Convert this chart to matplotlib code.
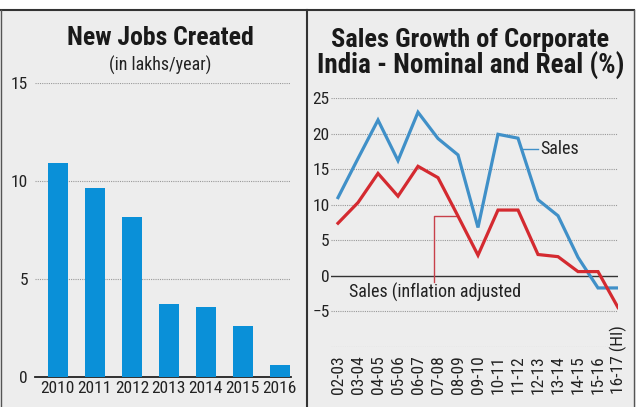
import matplotlib
matplotlib.use("Agg")
import matplotlib.pyplot as plt
from matplotlib.lines import Line2D

# data
years = ["2010", "2011", "2012", "2013", "2014", "2015", "2016"]
jobs = [10.9, 9.65, 8.15, 3.75, 3.55, 2.6, 0.6]

fy = ["02-03", "03-04", "04-05", "05-06", "06-07", "07-08", "08-09", "09-10",
      "10-11", "11-12", "12-13", "13-14", "14-15", "15-16", "16-17 (HI)"]
sales = [11.0, 16.5, 21.9, 16.2, 23.0, 19.3, 17.0, 6.8, 19.9, 19.35, 10.7, 8.45, 2.6, -1.7, -1.7]
sales_real = [7.4, 10.3, 14.4, 11.2, 15.4, 13.8, 8.4, 2.9, 9.25, 9.25, 3.0, 2.7, 0.6, 0.6, -4.45]

plt.rcParams["font.family"] = ["Roboto Condensed", "DejaVu Sans"]
BG = "#ededed"
W, H = 636, 407

fig = plt.figure(figsize=(W / 100, H / 100), dpi=100)
fig.patch.set_facecolor("white")

def px(x0, y0, x1, y1):
    # pixel box (top-left origin) -> figure fraction rect
    return [x0 / W, 1 - y1 / H, (x1 - x0) / W, (y1 - y0) / H]

# grey panel + frame lines
bgax = fig.add_axes([0, 0, 1, 1])
bgax.set_xlim(0, W)
bgax.set_ylim(H, 0)
bgax.axis("off")
bgax.add_patch(plt.Rectangle((0, 10), W, H - 10, color=BG, zorder=0))
bgax.add_line(Line2D([0, 634], [10, 10], color="#333333", lw=1.5))
bgax.add_line(Line2D([1, 1], [10, H], color="#555555", lw=1))
bgax.add_line(Line2D([307, 307], [10, H], color="#333333", lw=1.5))
bgax.add_line(Line2D([634, 634], [10, H], color="#555555", lw=1))

bgax.text(160, 38, "New Jobs Created", ha="center", va="center",
          fontsize=18.5, fontweight="bold", color="#1a1a1a")
bgax.text(160, 65, "(in lakhs/year)", ha="center", va="center",
          fontsize=13, color="#222222")
bgax.text(470, 40, "Sales Growth of Corporate", ha="center", va="center",
          fontsize=19, fontweight="bold", color="#1a1a1a")
bgax.text(471, 66, "India - Nominal and Real (%)", ha="center", va="center",
          fontsize=19.5, fontweight="bold", color="#1a1a1a")

# left: bars
ax1 = fig.add_axes(px(35, 83, 291, 377))
ax1.set_facecolor("none")
ax1.bar(range(len(years)), jobs, width=0.54, color="#0a90d8", zorder=3)
ax1.set_xlim(-0.62, 6.3)
ax1.set_ylim(0, 15)
ax1.set_yticks([0, 5, 10, 15])
ax1.set_xticks(range(len(years)))
ax1.set_xticklabels(years)
for v in [5, 10, 15]:
    ax1.axhline(v, color="#999999", lw=0.8, ls=(0, (1, 1)), zorder=1)
for s in ["top", "right", "left"]:
    ax1.spines[s].set_visible(False)
ax1.spines["bottom"].set_color("#222222")
ax1.spines["bottom"].set_linewidth(1.3)
ax1.tick_params(axis="both", length=0, labelsize=12.5, colors="#222222")
ax1.tick_params(axis="y", pad=5)
ax1.tick_params(axis="x", pad=3)

# right: lines
ax2 = fig.add_axes(px(331, 98, 618, 347))
ax2.set_facecolor("none")
xs = list(range(len(fy)))
ax2.plot(xs, sales, color="#4090c8", lw=2.3, zorder=3, solid_joinstyle="miter")
ax2.plot(xs, sales_real, color="#d42a30", lw=2.3, zorder=4, solid_joinstyle="miter")
ax2.set_xlim(-0.35, 14.0)
ax2.set_ylim(-10, 25)
ax2.set_yticks([-5, 0, 5, 10, 15, 20, 25])
ax2.set_xticks(xs)
ax2.set_xticklabels([])
# rotated labels share a common bottom edge, growing upward
for i, lab in zip(xs, fy):
    ax2.text(i, -0.19, lab, rotation=90, ha="center", va="bottom",
             fontsize=12.5, color="#222222", transform=ax2.get_xaxis_transform())
for v in [-10, -5, 5, 10, 15, 20, 25]:
    ax2.axhline(v, color="#999999", lw=0.8, ls=(0, (1, 1)), zorder=1)
ax2.axhline(0, color="#333333", lw=1, zorder=2)
for s in ax2.spines.values():
    s.set_visible(False)
ax2.tick_params(axis="both", length=0, labelsize=12.5, colors="#222222")
ax2.tick_params(axis="y", pad=1)

# labels with leader lines
ax2.plot([9.25, 10.0], [17.8, 17.8], color="#4090c8", lw=1, zorder=3)
ax2.text(10.1, 17.8, "Sales", ha="left", va="center", fontsize=13, color="#222222")
ax2.plot([4.8, 4.8, 5.95], [-0.9, 8.4, 8.4], color="#c8404a", lw=1, zorder=3)
ax2.text(0.55, -2.3, "Sales (inflation adjusted", ha="left", va="center",
         fontsize=13, color="#222222")

fig.savefig("out.png", dpi=100, facecolor=fig.get_facecolor())
